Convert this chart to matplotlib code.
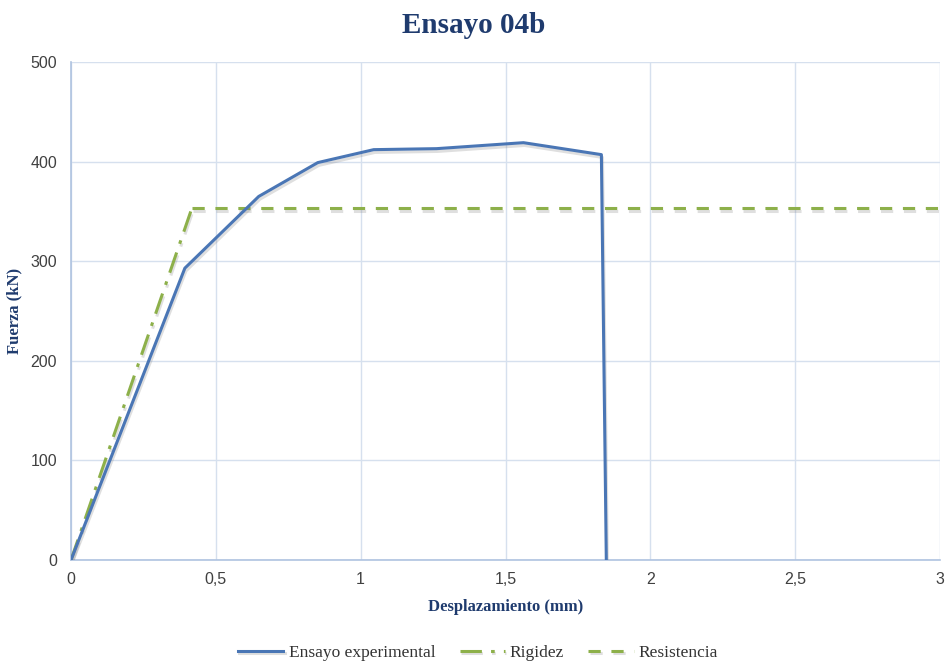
import matplotlib
matplotlib.use("Agg")
import matplotlib.pyplot as plt
import matplotlib.patheffects as pe
from matplotlib.ticker import FuncFormatter

# Experimental load-displacement curve
disp_exp = [0.0, 0.393, 0.648, 0.852, 1.045, 1.262, 1.562, 1.831, 1.848]
force_exp = [0.0, 293, 365, 399, 412, 413, 419, 407, 0.0]

# Idealised bilinear model
disp_rig = [0.0, 0.417]
force_rig = [0.0, 353]
disp_res = [0.417, 3.0]
force_res = [353, 353]

x_ticks = [0, 0.5, 1, 1.5, 2, 2.5, 3]
y_ticks = [0, 100, 200, 300, 400, 500]

blue = "#4A76B5"
green = "#8DB04A"
navy = "#1F3B6E"
grid_c = "#D6E0EE"
spine_c = "#AFC3E0"

fig = plt.figure(figsize=(9.47, 6.66), dpi=100)
ax = fig.add_axes([0.075, 0.1592, 0.9176, 0.7477])

shadow = [pe.SimpleLineShadow(offset=(0.8, -2.0), shadow_color="gray", alpha=0.25),
          pe.Normal()]

ax.plot(disp_exp, force_exp, color=blue, lw=2.2, label="Ensayo experimental",
        path_effects=shadow, zorder=4)
ax.plot(disp_rig, force_rig, color=green, lw=2.2, dashes=(7, 3, 1.2, 3),
        label="Rigidez", path_effects=shadow, zorder=3)
ax.plot(disp_res, force_res, color=green, lw=2.2, dashes=(4, 3.5),
        label="Resistencia", path_effects=shadow, zorder=3)

ax.set_xlim(0, 3)
ax.set_ylim(0, 500)
ax.set_xticks(x_ticks)
ax.set_yticks(y_ticks)
ax.xaxis.set_major_formatter(FuncFormatter(lambda v, p: f"{v:g}".replace(".", ",")))
ax.grid(True, color=grid_c, lw=1.0)
ax.set_axisbelow(True)
for s in ["top", "right"]:
    ax.spines[s].set_visible(False)
for s in ["left", "bottom"]:
    ax.spines[s].set_color(spine_c)
    ax.spines[s].set_linewidth(1.2)
ax.tick_params(length=0, labelsize=11.5, labelcolor="#404040")
ax.tick_params(axis="y", pad=10)
ax.tick_params(axis="x", pad=9)
for lbl in ax.get_xticklabels() + ax.get_yticklabels():
    lbl.set_fontfamily("Liberation Sans")

ax.set_xlabel("Desplazamiento (mm)", fontfamily="Liberation Serif", fontweight="bold",
              fontsize=12, color=navy, labelpad=8)
ax.set_ylabel("Fuerza (kN)", fontfamily="Liberation Serif", fontweight="bold",
              fontsize=12, color=navy, labelpad=6)

fig.suptitle("Ensayo 04b", fontfamily="Liberation Serif", fontweight="bold",
             fontsize=21, color=navy, y=0.982)

leg = fig.legend(loc="center", bbox_to_anchor=(0.505, 0.02), ncol=3, frameon=False,
                 prop={"family": "Liberation Serif", "size": 12.5},
                 handlelength=2.6, handletextpad=0.3, columnspacing=1.4)
for t in leg.get_texts():
    t.set_color("#333333")

fig.savefig("out.png", dpi=100)
